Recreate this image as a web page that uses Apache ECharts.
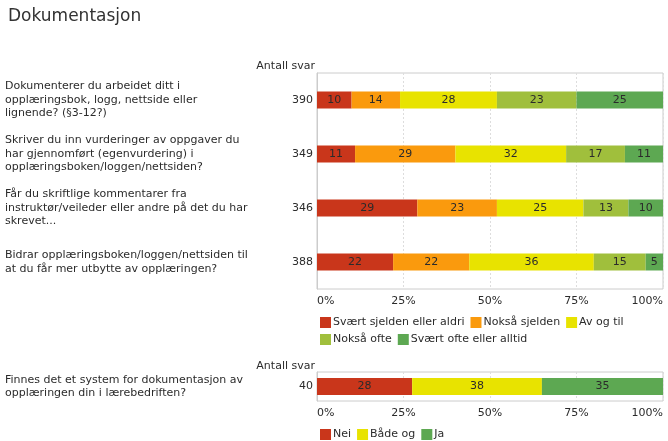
<!DOCTYPE html>
<html>
<head>
<meta charset="utf-8">
<script src="https://cdn.jsdelivr.net/npm/echarts@6/dist/echarts.min.js"></script>
<style>
html,body{margin:0;padding:0;background:#fff;}
#c{width:668px;height:441px;}
</style>
</head>
<body>
<div id="c"></div>
<script>
// ---- data ----
const titleText = 'Dokumentasjon';
const questionsTop = [
  'Dokumenterer du arbeidet ditt i\nopplæringsbok, logg, nettside eller\nlignende? (§3-12?)',
  'Skriver du inn vurderinger av oppgaver du\nhar gjennomført (egenvurdering) i\nopplæringsboken/loggen/nettsiden?',
  'Får du skriftlige kommentarer fra\ninstruktør/veileder eller andre på det du har\nskrevet...',
  'Bidrar opplæringsboken/loggen/nettsiden til\nat du får mer utbytte av opplæringen?'
];
const countsTop = ['390', '349', '346', '388'];
const seriesNamesTop = ['Svært sjelden eller aldri', 'Nokså sjelden', 'Av og til', 'Nokså ofte', 'Svært ofte eller alltid'];
const svaertSjelden = [10, 11, 29, 22];
const noksaSjelden = [14, 29, 23, 22];
const avOgTil = [28, 32, 25, 36];
const noksaOfte = [23, 17, 13, 15];
const svaertOfte = [25, 11, 10, 5];

const questionsBottom = ['Finnes det et system for dokumentasjon av\nopplæringen din i lærebedriften?'];
const countsBottom = ['40'];
const seriesNamesBottom = ['Nei', 'Både og', 'Ja'];
const nei = [27.5];
const baadeOg = [37.5];
const ja = [35];

const percentTicks = [0, 25, 50, 75, 100];
const axisHeader = 'Antall svar';

// ---- styles ----
const FONT = 'DejaVu Sans';
const TXT = '#2b2b2b';
const colorsTop = ['#c9361b', '#fa9a0d', '#e8e300', '#a0bf3c', '#5da852'];
const colorsBottom = ['#c9361b', '#e8e300', '#5da852'];

const chart = echarts.init(document.getElementById('c'), null, {renderer: 'canvas'});

function xAxisCfg(gi) {
  return {
    type: 'value', gridIndex: gi, min: percentTicks[0], max: percentTicks[percentTicks.length - 1], interval: 25,
    axisLine: {show: false}, axisTick: {show: false},
    splitLine: {show: true, lineStyle: {color: '#ddd', type: [2, 2]}},
    axisLabel: {color: TXT, fontFamily: FONT, fontSize: 11, margin: 7,
      formatter: v => v + '%', alignMinLabel: 'left', alignMaxLabel: 'right'}
  };
}

function countAxis(gi, data) {
  return {
    type: 'category', gridIndex: gi, data: data, inverse: true,
    axisLine: {show: true, lineStyle: {color: '#ccc'}}, axisTick: {show: false},
    axisLabel: {color: TXT, fontFamily: FONT, fontSize: 11, margin: 4}
  };
}
function questionAxis(gi, data) {
  return {
    type: 'category', gridIndex: gi, data: data, inverse: true, position: 'left',
    axisLine: {show: false}, axisTick: {show: false}, splitLine: {show: false},
    axisLabel: {color: TXT, fontFamily: FONT, fontSize: 11, lineHeight: 13.5, margin: 312, align: 'left'}
  };
}

function mkSeries(name, data, color, xi, yi) {
  return {
    name: name, type: 'bar', stack: 's' + xi, xAxisIndex: xi, yAxisIndex: yi,
    data: data, barWidth: 17, itemStyle: {color: color},
    label: {show: true, position: 'inside', color: TXT, fontFamily: FONT, fontSize: 11,
      formatter: p => Math.round(p.value)},
    emphasis: {disabled: true}
  };
}

const topData = [svaertSjelden, noksaSjelden, avOgTil, noksaOfte, svaertOfte];
const bottomData = [nei, baadeOg, ja];

const series = [];
seriesNamesTop.forEach((n, i) => series.push(mkSeries(n, topData[i], colorsTop[i], 0, 0)));
seriesNamesBottom.forEach((n, i) => series.push(mkSeries(n, bottomData[i], colorsBottom[i], 1, 2)));

chart.setOption({
  animation: false,
  backgroundColor: '#fff',
  title: {text: titleText, left: 3, top: 3, textStyle: {color: '#333', fontFamily: FONT, fontSize: 17, fontWeight: 'normal'}},
  grid: [
    {left: 317, right: 5, top: 73, height: 216, show: true, borderColor: '#ccc', borderWidth: 1, containLabel: false},
    {left: 317, right: 5, top: 372, height: 29, show: true, borderColor: '#ccc', borderWidth: 1, containLabel: false}
  ],
  xAxis: [xAxisCfg(0), xAxisCfg(1)],
  yAxis: [countAxis(0, countsTop), questionAxis(0, questionsTop), countAxis(1, countsBottom), questionAxis(1, questionsBottom)],
  legend: [
    {data: seriesNamesTop, left: 315, top: 312, width: 350, itemWidth: 11, itemHeight: 11, itemGap: 6,
      icon: 'rect', textStyle: {color: TXT, fontFamily: FONT, fontSize: 11, padding: [0, 0, 0, -3]}, selectedMode: false},
    {data: seriesNamesBottom, left: 315, top: 424, width: 350, itemWidth: 11, itemHeight: 11, itemGap: 6,
      icon: 'rect', textStyle: {color: TXT, fontFamily: FONT, fontSize: 11, padding: [0, 0, 0, -3]}, selectedMode: false}
  ],
  graphic: [
    {type: 'text', right: 353, top: 61, style: {text: axisHeader, fill: TXT, font: '11px "DejaVu Sans"'}},
    {type: 'text', right: 353, top: 361, style: {text: axisHeader, fill: TXT, font: '11px "DejaVu Sans"'}}
  ],
  series: series
});
</script>
</body>
</html>
